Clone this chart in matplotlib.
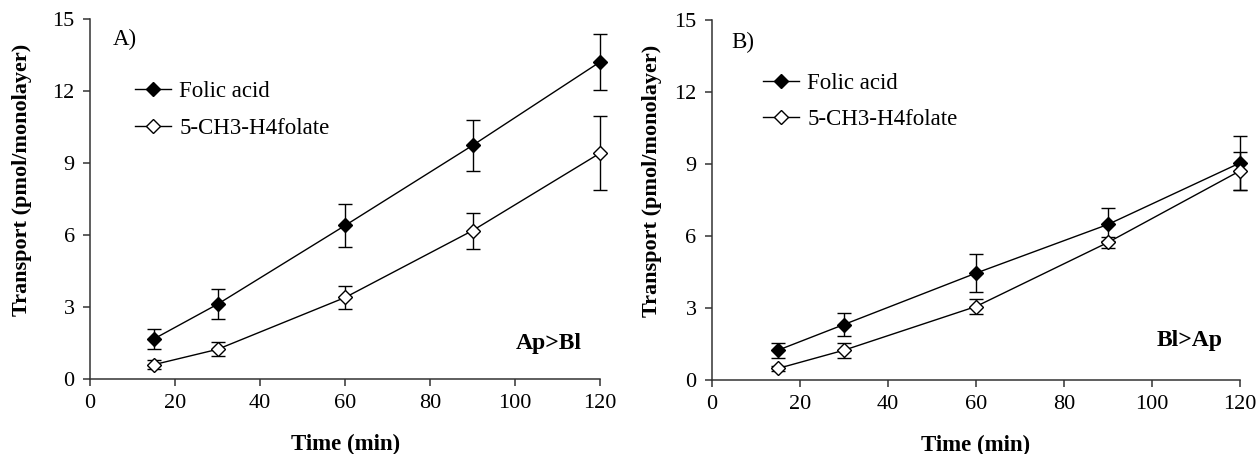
import numpy as np
import matplotlib
matplotlib.use("Agg")
import matplotlib.pyplot as plt

plt.rcParams['font.family'] = ['Liberation Serif', 'DejaVu Serif']

# time points (min)
time = [15, 30, 60, 90, 120]

# A) apical -> basolateral
folic_a = [1.67, 3.12, 6.40, 9.74, 13.22]
folic_a_err = [0.41, 0.62, 0.89, 1.05, 1.17]
methyl_a = [0.60, 1.24, 3.40, 6.19, 9.42]
methyl_a_err = [0.20, 0.29, 0.46, 0.75, 1.55]

# B) basolateral -> apical
folic_b = [1.24, 2.31, 4.45, 6.48, 9.04]
folic_b_err = [0.31, 0.48, 0.79, 0.69, 1.13]
methyl_b = [0.48, 1.24, 3.06, 5.73, 8.71]
methyl_b_err = [0.12, 0.32, 0.30, 0.22, 0.80]

labels = ['Folic acid', '5-CH3-H4folate']
xticks = [0, 20, 40, 60, 80, 100, 120]
yticks = [0, 3, 6, 9, 12, 15]

fig = plt.figure(figsize=(12.6, 4.54), dpi=100)
axA = fig.add_axes([0.0714, 0.165, 0.405, 0.793])
axB = fig.add_axes([0.565, 0.163, 0.419, 0.793])

panels = [
    (axA, folic_a, folic_a_err, methyl_a, methyl_a_err, 'A)', 'Ap>Bl',
     (5.3, 14.17), (100.2, 1.49), (0.089, 0.827), -0.114),
    (axB, folic_b, folic_b_err, methyl_b, methyl_b_err, 'B)', 'Bl>Ap',
     (4.4, 14.07), (101.0, 1.65), (0.097, 0.854), -0.094),
]

for ax, f, fe, m, me, tag, direction, tagpos, dirpos, legpos, ylab_x in panels:
    ax.errorbar(time, f, yerr=fe, color='black', lw=1, marker='D', ms=7,
                mfc='black', mec='black', capsize=5, elinewidth=1, capthick=1,
                label=labels[0], zorder=3)
    ax.errorbar(time, m, yerr=me, color='black', lw=1, marker='D', ms=7,
                mfc='white', mec='black', capsize=5, elinewidth=1, capthick=1,
                label=labels[1], zorder=3)
    for art in ax.lines + ax.collections:
        art.set_clip_on(False)
    ax.set_xlim(0, 120)
    ax.set_ylim(0, 15)
    ax.set_xticks(xticks)
    ax.set_yticks(yticks)
    ax.spines['top'].set_visible(False)
    ax.spines['right'].set_visible(False)
    for s in ['left', 'bottom']:
        ax.spines[s].set_linewidth(1.1)
        ax.spines[s].set_color('#333333')
    ax.tick_params(direction='out', length=5, width=1.1, color='#333333',
                   labelsize=16, pad=6)
    ax.set_xlabel('Time (min)', fontsize=16.5, fontweight='bold', labelpad=15)
    ax.set_ylabel('Transport (pmol/monolayer)', fontsize=16, fontweight='bold')
    ax.yaxis.set_label_coords(ylab_x, 0.553)
    ax.text(tagpos[0], tagpos[1], tag, fontsize=16.5, va='center', ha='left')
    ax.text(dirpos[0], dirpos[1], direction, fontsize=17, fontweight='bold',
            va='center', ha='left')
    handles, lbls = ax.get_legend_handles_labels()
    handles = [h[0] for h in handles]
    ax.legend(handles, lbls, loc='upper left', bbox_to_anchor=legpos,
              frameon=False, fontsize=16.5, handlelength=1.57, handletextpad=0.35,
              labelspacing=0.67, borderaxespad=0, borderpad=0)

fig.savefig('out.png', dpi=100)
